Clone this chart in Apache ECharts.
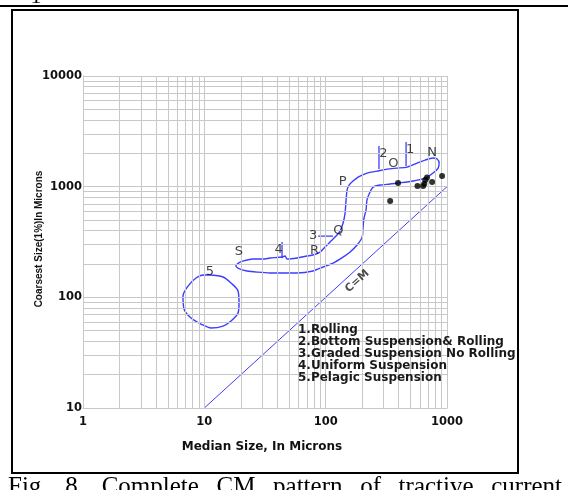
<!DOCTYPE html>
<html><head><meta charset="utf-8">
<script src="https://cdn.jsdelivr.net/npm/echarts@6/dist/echarts.min.js"></script>
<style>html,body{margin:0;padding:0;background:#fff}#c{width:568px;height:490px}</style>
</head><body><div id="c"></div>
<script>
// ---- data ----
const xGridValues = [1,2,3,4,5,6,7,8,9,10,20,30,40,50,60,70,80,90,100,200,300,400,500,600,700,800,900,1000];
const yGridValues = [10,20,30,40,50,60,70,80,90,100,200,300,400,500,600,700,800,900,1000,2000,3000,4000,5000,6000,7000,8000,9000,10000];
// closed envelope S-R-Q-P-O-N (median, coarsest)
const envelope = [
 [18.25,195.8],[19.7,208.4],[22.5,217.3],[25.2,221.8],[30.5,221.8],[34.8,226.5],[43.7,231.3],[46.3,236.1],[48.1,221.8],
 [58.1,226.5],[70.2,236.1],[78.7,241.1],[89.9,256.6],[98.9,284.8],[108.7,316],[121.8,357.8],[131.4,397.2],[139.2,469.2],
 [144.5,577.5],[147.3,756.8],[150.1,932],[155.9,1034],[168.2,1124],[185,1221],[219.4,1327],[265.3,1383],[320.8,1442],
 [387.8,1472],[469,1503],[567,1634],[660,1739],[768,1813],[829,1776],[861,1634],[845,1472],[768,1327],[686,1221],
 [623,1171],[526,1124],[469,1101],[395,1078],[340,1056],[281,1034],[246,992],[232,894],[219,757],[215,614],[207,520],
 [203,423],[200,350],[181.5,297],[159,257],[139,231],[115,204],[95.2,188],[78.7,173],[58.1,166],[42.1,166],[34.8,166],
 [27.2,169],[22.5,173],[19.7,180],[18.25,192],[18.25,195.8]
];
// pelagic suspension loop (5)
const pelagic = [
 [10.93,159],[14.26,152.6],[16.6,134.7],[18.96,114],[19.32,88.8],[18.96,72.1],[16.6,61.1],[14.26,55],[11.36,52.8],
 [9.39,57.4],[7.77,65],[6.8,78.4],[6.67,102.7],[7.34,126.5],[8.54,149.4],[9.76,159],[10.93,159]
];
const samples = [[395,1078],[340,741],[571,1013],[636,1013],[650,1060],[662,1147],[684,1209],[754,1101],[911,1247]];
const cmLine = [[10,10],[1000,1000]];
const marker1 = [[460,2528],[460,1535]];
const marker2 = [[275,2327],[275,1442]];
const marker3 = [[86.6,358],[115,358]];
const marker4 = [[43.7,316],[43.7,226]];
const letters = [['N',754,2012],['1',497,2141],['2',299,1999],['O',362,1623],['P',138,1107],['Q',127,400],
 ['3',79,360],['R',81,264],['4',41,271],['S',19.3,258],['5',11.1,170]];
const cmLabel = ['C=M',182,140];
const legendLines = ['1.Rolling','2.Bottom Suspension& Rolling','3.Graded Suspension No Rolling','4.Uniform Suspension','5.Pelagic Suspension'];
const xTitle = 'Median Size, In Microns';
const yTitle = 'Coarsest Size(1%)In Microns';
const captionWords = ['Fig.','8.','Complete','CM','pattern','of','tractive','current'];

// ---- chart ----
const chart = echarts.init(document.getElementById('c'), null, {renderer:'canvas'});
const BLUE = '#3d3dff';
function seg(data, w){ return {type:'line', data:data, symbol:'none', smooth:false, lineStyle:{color:BLUE, width:w||1.2}, silent:true, z:3}; }

const gridLines = xGridValues.map(v=>({xAxis:v})).concat(yGridValues.map(v=>({yAxis:v})));

// caption layout (justified)
const ctx = document.createElement('canvas').getContext('2d');
const capFont = '25px "Liberation Serif"';
ctx.font = capFont;
const widths = captionWords.map(w=>ctx.measureText(w).width);
const capLeft = 8, capRight = 562;
const total = widths.reduce((a,b)=>a+b,0);
const gap = (capRight-capLeft-total)/(captionWords.length-1);
let cx = capLeft;
const captionEls = captionWords.map((w,i)=>{ const el={type:'text', x:cx, y:487, style:{text:w, font:capFont, fill:'#000', verticalAlign:'middle'}, silent:true}; cx += widths[i]+gap; return el; });

const legendEls = legendLines.map((t,i)=>({type:'text', x:298, y:330+12*i, style:{text:t, fontFamily:'DejaVu Sans', fontWeight:'bold', fontSize:12, fill:'#1a1a1a', verticalAlign:'middle'}, silent:true, z:10}));

const fmt = v => String(Math.round(v));

chart.setOption({
  animation:false,
  backgroundColor:'#fff',
  grid:{left:83, top:76, width:364, height:332, containLabel:false},
  xAxis:{type:'log', logBase:10, min:1, max:1000,
    splitLine:{show:false}, axisTick:{show:false},
    axisLine:{lineStyle:{color:'#b8b8b8', width:1}},
    axisLabel:{formatter:fmt, fontFamily:'DejaVu Sans', fontWeight:'bold', fontSize:11.5, color:'#111', margin:8}},
  yAxis:{type:'log', logBase:10, min:10, max:10000,
    splitLine:{show:false}, axisTick:{show:false},
    axisLine:{show:true, lineStyle:{color:'#b8b8b8', width:1}},
    axisLabel:{formatter:fmt, fontFamily:'DejaVu Sans', fontWeight:'bold', fontSize:11.5, color:'#111', margin:1}},
  series:[
    {type:'line', data:[[1,10]], symbol:'none', lineStyle:{width:0}, silent:true, z:1,
     markLine:{silent:true, symbol:['none','none'], label:{show:false}, animation:false,
       lineStyle:{color:'#c8c8c8', width:1, type:'solid'}, data:gridLines}},
    Object.assign(seg(envelope,1.4),{smooth:0.25}),
    Object.assign(seg(pelagic,1.4),{smooth:0.3}),
    seg(cmLine,1),
    seg(marker1,1.3), seg(marker2,1.3), seg(marker3,1.3), seg(marker4,1.3),
    {type:'scatter', data:samples, symbol:'circle', symbolSize:6, itemStyle:{color:'#000'}, silent:true, z:5},
    {type:'scatter', data:letters.map(l=>({name:l[0], value:[l[1],l[2]]})), symbolSize:0, silent:true, z:6,
     label:{show:true, position:'inside', formatter:'{b}', fontFamily:'DejaVu Sans', fontSize:13, color:'#111'}},
    {type:'scatter', data:[{name:cmLabel[0], value:[cmLabel[1],cmLabel[2]]}], symbolSize:0, silent:true, z:6,
     label:{show:true, position:'inside', formatter:'{b}', rotate:42, fontFamily:'DejaVu Sans', fontWeight:'bold', fontSize:11, color:'#222'}}
  ],
  graphic:[
    {type:'rect', shape:{x:12, y:10, width:506, height:463}, style:{fill:'none', stroke:'#000', lineWidth:2}, silent:true},
    {type:'rect', shape:{x:0, y:5, width:568, height:2}, style:{fill:'#000'}, silent:true},
    {type:'text', x:36, y:-3, style:{text:'1', font:'22px "Liberation Serif"', fill:'#000', align:'center', verticalAlign:'middle'}, silent:true},
    {type:'text', x:262, y:447, style:{text:xTitle, fontFamily:'DejaVu Sans', fontWeight:'bold', fontSize:12, fill:'#111', align:'center', verticalAlign:'middle'}, silent:true},
    {type:'text', x:39.5, y:239, rotation:Math.PI/2, style:{text:yTitle, fontFamily:'Liberation Sans', fontWeight:'bold', fontSize:10, fill:'#111', align:'center', verticalAlign:'middle'}, silent:true}
  ].concat(legendEls).concat(captionEls)
});
</script></body></html>
